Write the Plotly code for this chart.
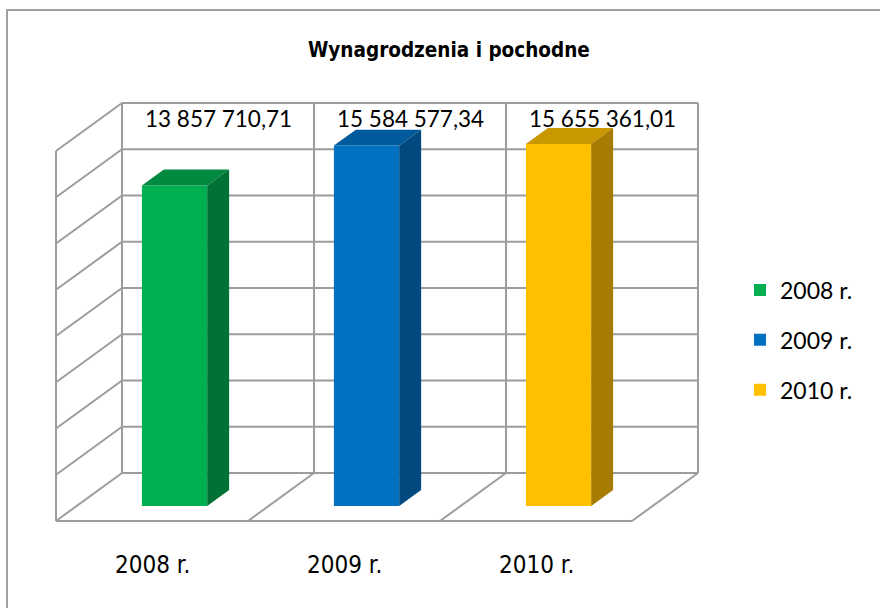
import plotly.graph_objects as go

# ---------------- data ----------------
categories = ["2008 r.", "2009 r.", "2010 r."]
values = [13857710.71, 15584577.34, 15655361.01]
front_colors = ["#00B050", "#0070C0", "#FFC000"]
top_colors = ["#00893F", "#005A9C", "#C99700"]
side_colors = ["#007236", "#004A80", "#A67C00"]
title_text = "Wynagrodzenia i pochodne"
grid_values = [0, 2e6, 4e6, 6e6, 8e6, 10e6, 12e6, 14e6, 16e6]

# ---------------- projection (oblique pseudo-3D) ----------------
W, H = 880, 608
X0_PX, SLOT_PX = 122, 192          # back wall left edge, slot width
Y0_PX, K = 473, 46.25 / 2e6        # back wall floor line, px per unit value
DX = 66 / SLOT_PX                  # depth shift (x units)
DY = 48 / K                        # depth shift (value units)
N = len(categories)
VMAX = grid_values[-1]


def P(u, v, d):
    """slot coord u, value v, depth d (0 = front, 1 = back) -> axis coords"""
    return u - (1 - d) * DX, v - (1 - d) * DY


D_FRONT, D_BACK = 0.3125, 0.645
BAR_C, BAR_W = 0.51, 0.34

fig = go.Figure()
shapes = []
GRID = dict(color="#9c9c9c", width=2)


def seg(a, b):
    shapes.append(dict(type="line", xref="x", yref="y", x0=a[0], y0=a[1],
                       x1=b[0], y1=b[1], line=GRID, layer="below"))


# back wall + left wall horizontal lines
for gv in grid_values:
    seg(P(0, gv, 1), P(N, gv, 1))
    seg(P(0, gv, 0), P(0, gv, 1))
# back wall verticals
for i in range(N + 1):
    seg(P(i, 0, 1), P(i, VMAX, 1))
# left wall front edge
seg(P(0, 0, 0), P(0, VMAX, 0))
# floor
seg(P(0, 0, 0), P(N, 0, 0))
for i in range(1, N + 1):
    seg(P(i, 0, 0), P(i, 0, 1))

# bars: front face via bar trace, top & side faces as filled polygons
for i, (cat, v) in enumerate(zip(categories, values)):
    uL, uR = i + BAR_C - BAR_W / 2, i + BAR_C + BAR_W / 2
    xc, yb = P(i + BAR_C, 0, D_FRONT)
    fig.add_trace(go.Bar(x=[xc], y=[v], base=[yb], width=[BAR_W],
                         marker=dict(color=front_colors[i], line=dict(width=0)),
                         name=cat, legendgroup=cat, hoverinfo="skip"))
    top = [P(uL, v, D_FRONT), P(uR, v, D_FRONT), P(uR, v, D_BACK), P(uL, v, D_BACK)]
    side = [P(uR, 0, D_FRONT), P(uR, v, D_FRONT), P(uR, v, D_BACK), P(uR, 0, D_BACK)]
    for poly, col in ((top, top_colors[i]), (side, side_colors[i])):
        xs = [p[0] for p in poly] + [poly[0][0]]
        ys = [p[1] for p in poly] + [poly[0][1]]
        fig.add_trace(go.Scatter(x=xs, y=ys, mode="lines", fill="toself",
                                 fillcolor=col, line=dict(width=0, color=col),
                                 showlegend=False, hoverinfo="skip"))

annotations = []
LABEL_FONT = dict(family="Lato, Carlito, Calibri, sans-serif", size=22.5, color="#000000")
NARROW = "Liberation Sans Narrow, Arial Narrow, DejaVu Sans Condensed, sans-serif"


def fmt(v):
    return f"{v:,.2f}".replace(",", " ").replace(".", ",")


for i, v in enumerate(values):
    x, y = P(i + 0.5, VMAX - 15 / K, 1)
    annotations.append(dict(x=x, y=y, xref="x", yref="y", text=fmt(v),
                            showarrow=False, font=LABEL_FONT,
                            xanchor="center", yanchor="middle"))
    cx, cy = P(i + 0.5, -44 / K, 0)
    annotations.append(dict(x=cx, y=cy, xref="x", yref="y", text=categories[i],
                            showarrow=False, font=dict(family=NARROW, size=24, color="#000"),
                            xanchor="center", yanchor="middle"))

annotations.append(dict(x=449 / W, y=1 - 50 / H, xref="paper", yref="paper",
                        text=f"<b>{title_text}</b>", showarrow=False,
                        font=dict(family=NARROW, size=20.5, color="#000"),
                        xanchor="center", yanchor="middle"))

# outer chart frame
shapes.append(dict(type="rect", xref="paper", yref="paper",
                   x0=7 / W, y0=-0.1, x1=1.1, y1=1 - 10 / H,
                   line=dict(color="#a0a0a0", width=2), layer="below"))

fig.update_layout(
    width=W, height=H, margin=dict(l=0, r=0, t=0, b=0),
    paper_bgcolor="white", plot_bgcolor="white",
    barmode="overlay",
    xaxis=dict(range=[-X0_PX / SLOT_PX, (W - X0_PX) / SLOT_PX], visible=False,
               fixedrange=True),
    yaxis=dict(range=[(Y0_PX - H) / K, Y0_PX / K], visible=False, fixedrange=True),
    shapes=shapes, annotations=annotations,
    legend=dict(x=740 / W, y=1 - 340 / H, xanchor="left", yanchor="middle",
                font=dict(family="Lato, Carlito, Calibri, sans-serif", size=23, color="#000"),
                tracegroupgap=17, bgcolor="rgba(0,0,0,0)"),
    showlegend=True,
)

fig.write_html("out.html", config={"displayModeBar": False},
               post_script="document.body.style.margin='0px';document.body.style.overflow='hidden';")
